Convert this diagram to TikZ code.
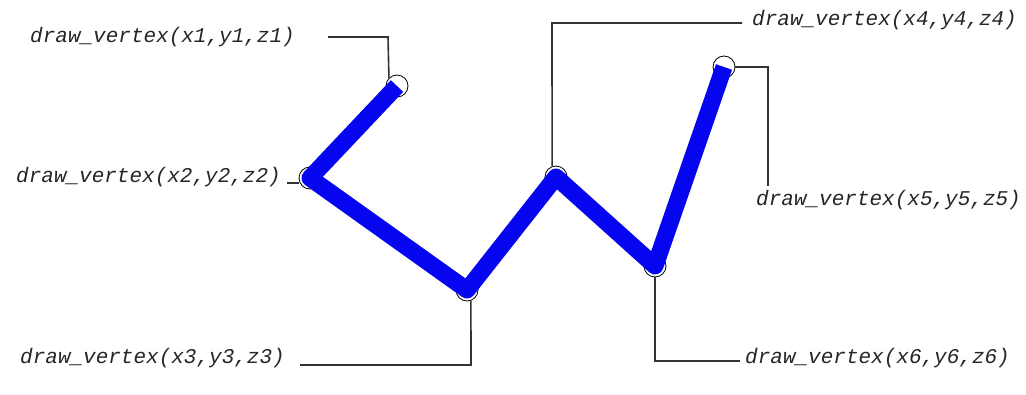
\documentclass[tikz,border=0pt]{standalone}
\usepackage{fontspec}
\newfontfamily\lbfont{Liberation Mono}
\begin{document}
\begin{tikzpicture}[x=1pt,y=-1pt]
\tikzset{
  vtx/.style={circle,draw=black,line width=0.8pt,minimum size=22pt,inner sep=0pt},
  lbl/.style={font=\lbfont\itshape\fontsize{21}{24}\selectfont, inner sep=0pt, anchor=west, text=black!85},
  lead/.style={draw=black!80, line width=1.6pt},
  wire/.style={draw={rgb,255:red,5;green,5;blue,240}, line width=17pt, line join=round}
}
\fill[white] (0,0) rectangle (1026,394);
\useasboundingbox (0,0) rectangle (1026,394);
\node[vtx] (v1) at (397,86) {};
\node[vtx] (v2) at (310,178) {};
\node[vtx] (v3) at (467,290) {};
\node[vtx] (v4) at (556,177) {};
\node[vtx] (v5) at (724,67) {};
\node[vtx] (v6) at (655,266) {};
\draw[wire] (v1.center) -- (v2.center) -- (v3.center) -- (v4.center) -- (v6.center) -- (v5.center);
\node[lbl] (t1) at (30,37) {draw\_vertex(x1,y1,z1)};
\node[lbl] (t2) at (16,177) {draw\_vertex(x2,y2,z2)};
\node[lbl] (t3) at (20,358) {draw\_vertex(x3,y3,z3)};
\node[lbl] (t4) at (752,20) {draw\_vertex(x4,y4,z4)};
\node[lbl] (t5) at (756,200) {draw\_vertex(x5,y5,z5)};
\node[lbl] (t6) at (745,358) {draw\_vertex(x6,y6,z6)};
\coordinate (c1) at (328,37);
\coordinate (c2) at (287,183);
\coordinate (c3) at (300,365);
\coordinate (c4) at (742,23);
\coordinate (c5) at (768,186);
\coordinate (c6) at (740,361);
\draw[lead] (c1) -- (388,37) -- (v1.{180-45});
\draw[lead] (c2) -- (v2.west |- c2);
\draw[lead] (c3) -- (471,365) -- (v3.{-70});
\draw[lead] (c4) -- (552,23) -- (v4.{110});
\draw[lead] (v5.east) -- (768,67) -- (c5);
\draw[lead] (v6.south) |- (c6);
\end{tikzpicture}
\end{document}
